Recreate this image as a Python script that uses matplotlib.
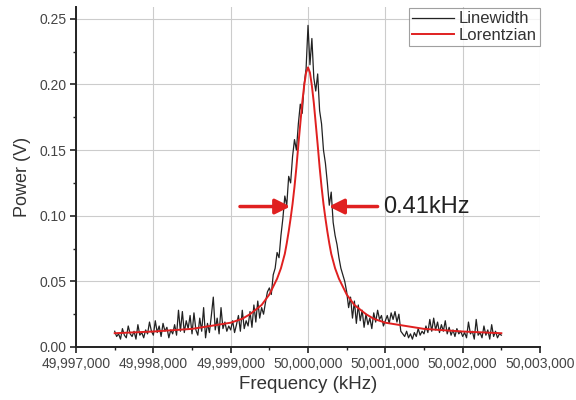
import matplotlib
matplotlib.use("Agg")
import matplotlib.pyplot as plt
from matplotlib.ticker import FuncFormatter, MultipleLocator

plt.rcParams['font.family'] = ['Liberation Sans', 'DejaVu Sans']

# Measured spectrum: 25 kHz steps from 49,997,500 to 50,002,500 kHz
freq_start = 49997500
freq_step = 25
power = [
    0.012, 0.008, 0.010, 0.006, 0.014, 0.009, 0.007, 0.016, 0.010, 0.008,
    0.012, 0.006, 0.017, 0.009, 0.011, 0.007, 0.013, 0.010, 0.019, 0.012,
    0.009, 0.020, 0.011, 0.016, 0.008, 0.018, 0.012, 0.015, 0.007, 0.013,
    0.010, 0.017, 0.009, 0.028, 0.012, 0.027, 0.011, 0.020, 0.014, 0.024,
    0.010, 0.026, 0.013, 0.009, 0.022, 0.012, 0.030, 0.007, 0.018, 0.011,
    0.024, 0.038, 0.013, 0.022, 0.010, 0.030, 0.014, 0.019, 0.012, 0.016,
    0.013, 0.020, 0.011, 0.017, 0.024, 0.012, 0.028, 0.014, 0.020, 0.016,
    0.027, 0.015, 0.032, 0.019, 0.035, 0.022, 0.030, 0.025, 0.034, 0.042,
    0.045, 0.040, 0.055, 0.060, 0.072, 0.068, 0.085, 0.098, 0.115, 0.108,
    0.130, 0.125, 0.145, 0.158, 0.150, 0.170, 0.185, 0.178, 0.200, 0.212,
    0.245, 0.215, 0.235, 0.205, 0.195, 0.208, 0.180, 0.170, 0.150, 0.140,
    0.125, 0.108, 0.118, 0.095, 0.085, 0.078, 0.068, 0.060, 0.055, 0.050,
    0.042, 0.030, 0.038, 0.022, 0.035, 0.018, 0.032, 0.020, 0.028, 0.015,
    0.025, 0.017, 0.022, 0.014, 0.026, 0.019, 0.028, 0.021, 0.024, 0.016,
    0.020, 0.024, 0.018, 0.026, 0.021, 0.027, 0.019, 0.025, 0.012, 0.010,
    0.008, 0.012, 0.007, 0.010, 0.006, 0.011, 0.008, 0.014, 0.009, 0.012,
    0.010, 0.016, 0.011, 0.021, 0.012, 0.022, 0.013, 0.019, 0.011, 0.017,
    0.012, 0.020, 0.010, 0.015, 0.009, 0.013, 0.008, 0.014, 0.010, 0.012,
    0.008, 0.011, 0.007, 0.019, 0.010, 0.012, 0.006, 0.021, 0.009, 0.011,
    0.007, 0.016, 0.009, 0.013, 0.006, 0.017, 0.008, 0.012, 0.007, 0.010,
    0.009,
]
freq = [freq_start + i * freq_step for i in range(len(power))]

# Lorentzian fit, offsets from the line centre (kHz)
fit_center = 50000000
fit_offset = [-2500, -2000, -1500, -1000, -850, -750, -600, -500, -400, -350,
              -300, -275, -250, -225, -200, -175, -150, -125, -100, -75,
              -50, -25, 0, 25, 50, 75, 100, 125, 150, 175,
              200, 225, 250, 275, 300, 350, 400, 500, 600, 750,
              850, 1000, 1500, 2000, 2500]
fit_power = [0.0105, 0.0118, 0.0138, 0.0185, 0.0215, 0.0250, 0.0320, 0.0400, 0.0520, 0.0600,
             0.0710, 0.0790, 0.0880, 0.0980, 0.1090, 0.1220, 0.1370, 0.1540, 0.1700, 0.1860,
             0.1990, 0.2090, 0.2130, 0.2090, 0.1990, 0.1860, 0.1700, 0.1540, 0.1370, 0.1220,
             0.1090, 0.0980, 0.0880, 0.0790, 0.0710, 0.0600, 0.0520, 0.0400, 0.0320, 0.0250,
             0.0215, 0.0185, 0.0138, 0.0118, 0.0105]
fit_freq = [fit_center + d for d in fit_offset]

# Linewidth marker
half_max = 0.107
arrow_left = (49999120, 49999770)
arrow_right = (50000900, 50000270)
width_label = "0.41kHz"

fig = plt.figure(figsize=(5.76, 4.0), dpi=100)
ax = fig.add_axes([0.132, 0.1325, 0.8055, 0.85])

ax.plot(freq, power, color='#222222', lw=0.9, label='Linewidth', zorder=3)
ax.plot(fit_freq, fit_power, color='#e02020', lw=1.4, label='Lorentzian', zorder=4)

for tail, tip in (arrow_left, arrow_right):
    ax.annotate('', xy=(tip, half_max), xytext=(tail, half_max),
                arrowprops=dict(arrowstyle='-|>,head_length=0.9,head_width=0.45',
                                color='#e02020', lw=2.5, shrinkA=0, shrinkB=0),
                zorder=5)
ax.text(50000970, half_max, width_label, fontsize=17, color='#222222',
        va='center', ha='left', zorder=5)

ax.set_xlim(49997000, 50003000)
ax.set_ylim(0, 0.259)
ax.xaxis.set_major_locator(MultipleLocator(1000))
ax.xaxis.set_minor_locator(MultipleLocator(500))
ax.yaxis.set_major_locator(MultipleLocator(0.05))
ax.yaxis.set_minor_locator(MultipleLocator(0.025))
ax.xaxis.set_major_formatter(FuncFormatter(lambda v, p: f"{v:,.0f}"))
ax.yaxis.set_major_formatter(FuncFormatter(lambda v, p: f"{v:.2f}"))

ax.grid(True, which='major', color='#cccccc', lw=0.8, zorder=0)
ax.set_axisbelow(True)
for side in ('top', 'right'):
    ax.spines[side].set_visible(False)
for side in ('left', 'bottom'):
    ax.spines[side].set_linewidth(1.4)
    ax.spines[side].set_color('#222222')

ax.tick_params(which='major', direction='out', length=4, width=1.2,
               labelsize=10, labelcolor='#444444', color='#222222', pad=3)
ax.tick_params(which='minor', direction='out', length=2.5, width=1.0, color='#222222')

ax.set_xlabel('Frequency (kHz)', fontsize=13.5, color='#333333', labelpad=4)
ax.set_ylabel('Power (V)', fontsize=13, color='#333333', labelpad=6)

leg = ax.legend(loc='upper right', fontsize=12, frameon=True, fancybox=False,
                borderpad=0.2, handlelength=2.5, handletextpad=0.3,
                labelspacing=0.1, borderaxespad=0.0, bbox_to_anchor=(1.0, 0.997))
leg.get_frame().set_edgecolor('#888888')
leg.get_frame().set_linewidth(0.8)
for t in leg.get_texts():
    t.set_color('#333333')

fig.savefig('out.png', dpi=100)
